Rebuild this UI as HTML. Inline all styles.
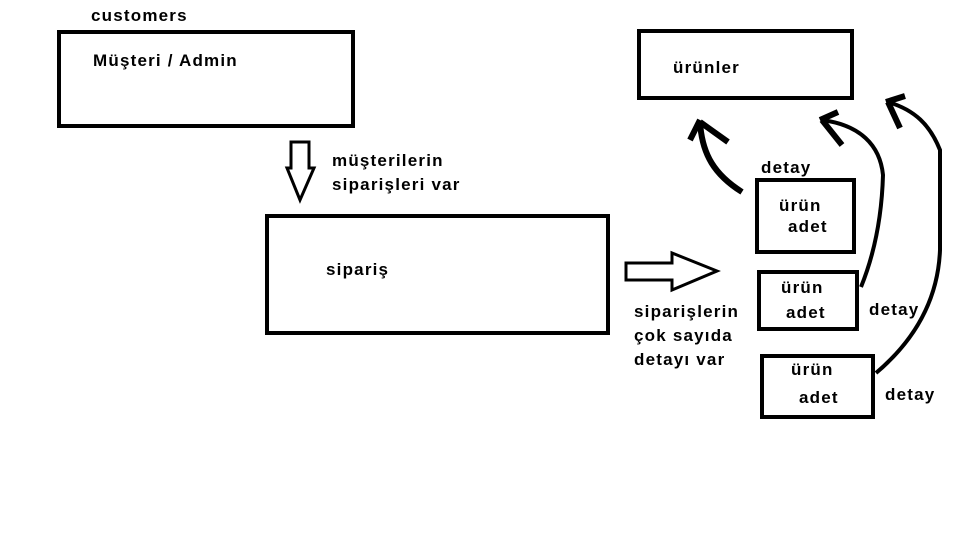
<!DOCTYPE html>
<html><head><meta charset="utf-8"><style>
html,body{margin:0;padding:0;background:#fff;width:971px;height:543px;overflow:hidden}
text{font-family:"Liberation Sans",sans-serif;font-weight:bold;font-size:17px;letter-spacing:1.2px;fill:#000}
</style></head><body>
<svg width="971" height="543" viewBox="0 0 971 543" xmlns="http://www.w3.org/2000/svg">
<g fill="none" stroke="#000" stroke-width="4">
<rect x="59" y="32" width="294" height="94"/>
<rect x="639" y="31" width="213" height="67"/>
<rect x="267" y="216" width="341" height="117"/>
<rect x="757" y="180" width="97" height="72"/>
<rect x="759" y="272" width="98" height="57"/>
<rect x="762" y="356" width="111" height="61"/>
</g>
<g fill="none" stroke="#000" stroke-width="3">
<path d="M291,142 L309,142 L309,168 L314,168 L300,200 L287,168 L291,168 Z"/>
<path d="M626,263 L672,263 L672,253 L717,271 L672,290 L672,280 L626,280 Z"/>
</g>
<g fill="none" stroke="#000" stroke-linecap="butt">
<path d="M742,192 C715,175 702,155 700,122" stroke-width="6"/>
<path d="M700,120 L690,140 M700,122 L728,142" stroke-width="6"/>
<path d="M861,287 C876,250 882,210 883,175 C880,145 860,125 822,120" stroke-width="4"/>
<path d="M822,120 L842,145 M820,120 L838,112" stroke-width="6"/>
<path d="M876,373 C915,340 938,300 940,250 L940,150 C930,125 915,110 888,102" stroke-width="4"/>
<path d="M888,102 L900,128 M886,102 L905,96" stroke-width="6"/>
</g>
<text x="91" y="21">customers</text>
<text x="93" y="66">Müşteri / Admin</text>
<text x="332" y="166">müşterilerin</text>
<text x="332" y="190">siparişleri var</text>
<text x="326" y="275">sipariş</text>
<text x="673" y="73">ürünler</text>
<text x="761" y="173">detay</text>
<text x="779" y="211">ürün</text>
<text x="788" y="232">adet</text>
<text x="781" y="293">ürün</text>
<text x="786" y="318">adet</text>
<text x="869" y="315">detay</text>
<text x="791" y="375">ürün</text>
<text x="799" y="403">adet</text>
<text x="885" y="400">detay</text>
<text x="634" y="317">siparişlerin</text>
<text x="634" y="341">çok sayıda</text>
<text x="634" y="365">detayı var</text>
</svg>
</body></html>
